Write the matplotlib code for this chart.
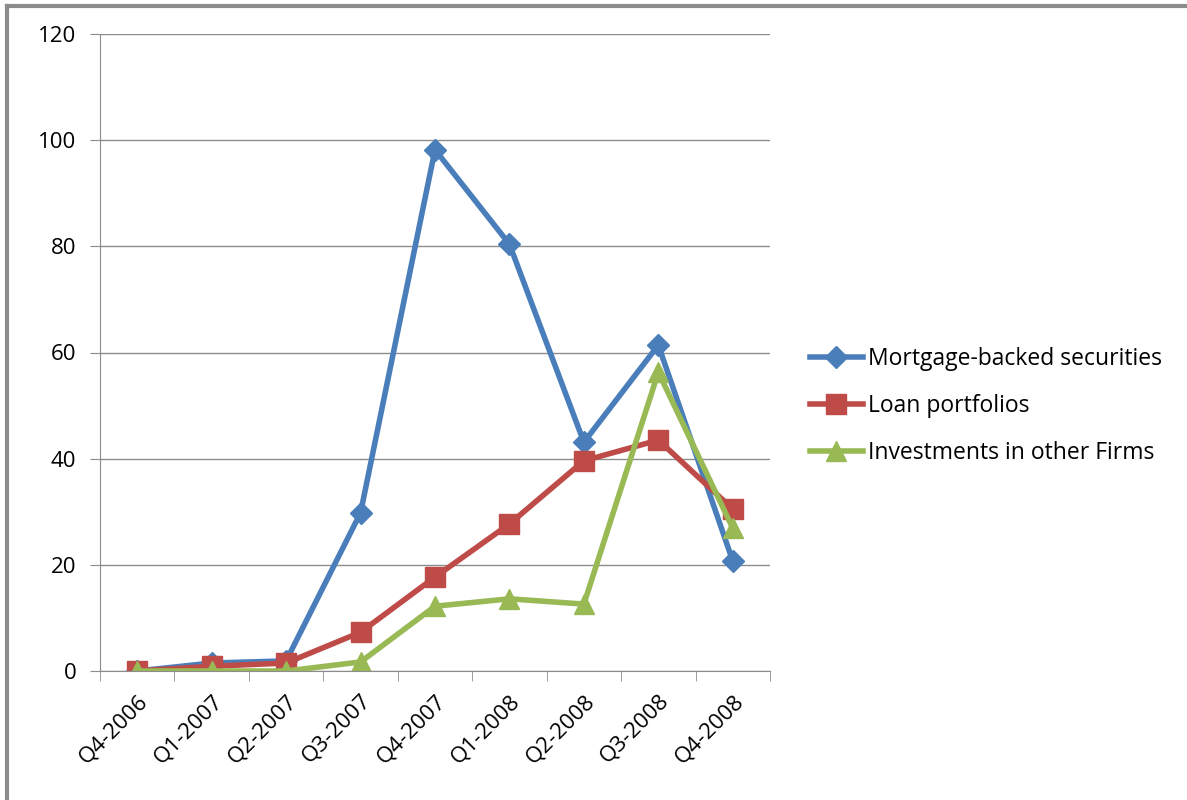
import numpy as np
import matplotlib.pyplot as plt
from matplotlib.lines import Line2D

quarters = ['Q4-2006', 'Q1-2007', 'Q2-2007', 'Q3-2007', 'Q4-2007',
            'Q1-2008', 'Q2-2008', 'Q3-2008', 'Q4-2008']
mbs = [0, 1.5, 1.9, 29.8, 98.2, 80.4, 43.1, 61.4, 20.7]
loans = [0, 0.9, 1.5, 7.3, 17.7, 27.7, 39.6, 43.5, 30.5]
invest = [0, 0, 0, 1.7, 12.2, 13.6, 12.6, 56.3, 26.9]

plt.rcParams['font.family'] = ['Open Sans', 'DejaVu Sans']

fig = plt.figure(figsize=(11.87, 8), dpi=100)
ax = fig.add_axes([100/1187, 1 - 671/800, 670/1187, 637/800])

x = np.arange(len(quarters))
ax.plot(x, mbs, color='#4a7ebb', lw=4, marker='D', ms=11,
        label='Mortgage-backed securities')
ax.plot(x, loans, color='#be4b48', lw=4, marker='s', ms=14,
        label='Loan portfolios')
ax.plot(x, invest, color='#98b954', lw=4, marker='^', ms=15,
        label='Investments in other Firms')

ax.set_xlim(-0.5, len(quarters) - 0.5)
ax.set_ylim(0, 120)
ax.set_yticks(range(0, 121, 20))
ax.yaxis.grid(True, color='#8c8c8c', lw=1)
ax.set_axisbelow(True)

ax.set_xticks(x)
ax.set_xticklabels(quarters, rotation=45, ha='right', rotation_mode='anchor')
ax.set_xticks(np.arange(-0.5, len(quarters)), minor=True)
ax.tick_params(axis='x', which='major', length=0, labelsize=16, pad=14)
ax.tick_params(axis='x', which='minor', length=7, color='#8c8c8c')
ax.tick_params(axis='y', length=7, color='#8c8c8c', labelsize=16, pad=10)

for s in ['top', 'right']:
    ax.spines[s].set_visible(False)
for s in ['left', 'bottom']:
    ax.spines[s].set_color('#8c8c8c')

ax.legend(loc='center left', bbox_to_anchor=((810 - 100) / 670, (671 - 406) / 637),
          frameon=False, fontsize=16.5, handlelength=2.3, handletextpad=0.25,
          labelspacing=1.0, borderpad=0, borderaxespad=0)

# outer chart border
fig.add_artist(Line2D([7/1187, 1], [1 - 6/800, 1 - 6/800], color='#8c8c8c', lw=3,
                      transform=fig.transFigure))
fig.add_artist(Line2D([7/1187, 7/1187], [0, 1 - 6/800], color='#8c8c8c', lw=3,
                      transform=fig.transFigure))

fig.savefig('out.png', dpi=100)
